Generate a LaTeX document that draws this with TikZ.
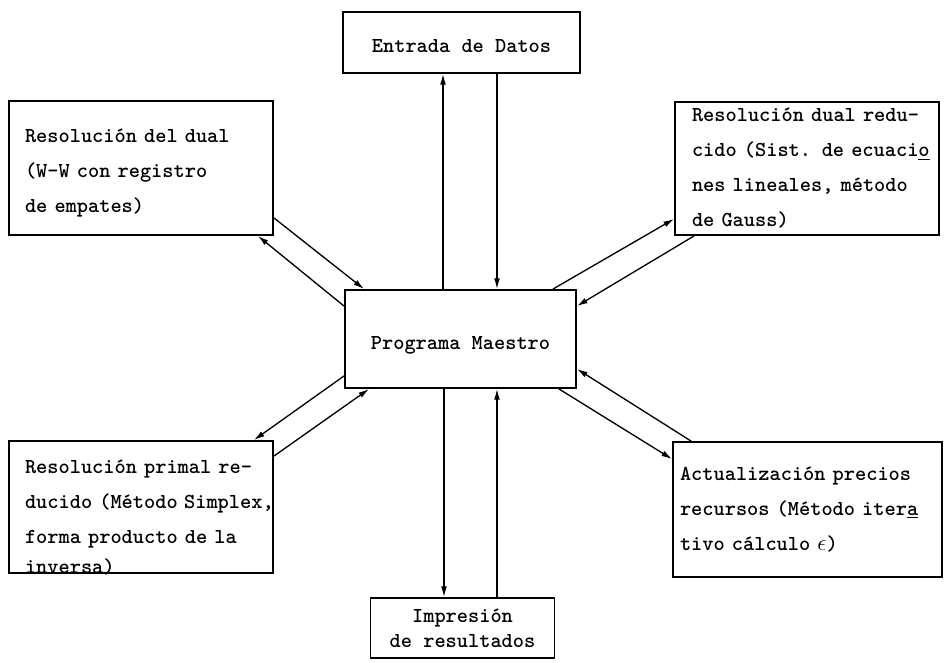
\documentclass[tikz,border=0pt]{standalone}
\usepackage{fontspec}
\usetikzlibrary{arrows.meta}

% invisible strut that pushes a box text down
\newcommand{\textdrop}[1]{\rule{0pt}{#1}}

\tikzset{
  modulebox/.style={draw, line width=1.4pt, inner ysep=0pt,
    font=\ttfamily\bfseries\fontsize{16}{26.25}\selectfont},
  sidebox/.style={modulebox, align=left, minimum width=198pt},
  flow/.style={line width=1pt, -{Latex[length=8pt,width=4.4pt]}}
}

\begin{document}
\begin{tikzpicture}[x=0.75pt,y=-0.75pt]

% Fix the page size
\useasboundingbox (0,0) rectangle (945,663);

% Define the master program in the middle
\node[modulebox, minimum width=173.25pt, minimum height=73.5pt] (maestro) at (460.5,339)
  {\textdrop{19.5pt}Programa Maestro\hspace{13.5pt}};

% Define input and output modules
\node[modulebox, minimum width=177.75pt, minimum height=45.75pt] (entrada) at (461.5,42.5)
  {\textdrop{15pt}Entrada de Datos};
\node[modulebox, minimum width=138pt, minimum height=45pt, align=center,
  font=\ttfamily\bfseries\fontsize{16}{19}\selectfont] (impresion) at (462.5,628) {Impresión\\de resultados};

% Define the four side modules
\node[sidebox, text width=174pt, inner xsep=12pt, minimum height=100.5pt] (dual) at (141,168)
  {\textdrop{18.4pt}Resolución del dual\\(W-W con registro\\de empates)};
\node[sidebox, text width=172.5pt, inner xsep=12.75pt, minimum height=99.75pt] (dualred) at (807,168.5)
  {\mbox{Resolución dual redu-}\\\mbox{cido (Sist. de ecuaci\underline{o}}\\nes lineales, método\\de Gauss)};
\node[sidebox, text width=174pt, inner xsep=12pt, inner ysep=-12pt, minimum height=99pt] (primal) at (141,507)
  {\textdrop{26.5pt}\mbox{Resolución primal re-}\\\mbox{ducido (Método\hspace{0.3em}Simplex,}\\forma producto de la\\[-4pt]inversa)};
\node[sidebox, text width=191.25pt, inner xsep=5.25pt, minimum height=101.25pt] (precios) at (807.5,509.5)
  {\mbox{Actualización precios}\\\mbox{recursos (Método iter\underline{a}}\\tivo cálculo $\epsilon$)};

% Draw data input and printing flows
\draw[flow] ([shift={(-17.5,0)}]maestro.north) -- ([shift={(-17.5,0)}]maestro.north |- entrada.south);
\draw[flow] ([shift={(36.5,0)}]maestro.north |- entrada.south) -- ([shift={(36.5,0)}]maestro.north);
\draw[flow] ([shift={(-16.5,0)}]maestro.south) -- ([shift={(-16.5,0)}]maestro.south |- impresion.north);
\draw[flow] ([shift={(36.5,0)}]maestro.south |- impresion.north) -- ([shift={(36.5,0)}]maestro.south);

% Draw flows to and from the side modules
\draw[flow] ([shift={(0,-18)}]dual.south east) -- ([shift={(20,0)}]maestro.north west);
\draw[flow] ([shift={(0,17)}]maestro.north west) -- ([shift={(-16,0)}]dual.south east);
\draw[flow] ([shift={(-24,0)}]maestro.north east) -- ([shift={(0,-17)}]dualred.south west);
\draw[flow] ([shift={(20,0)}]dualred.south west) -- ([shift={(0,17)}]maestro.north east);
\draw[flow] ([shift={(0,-13)}]maestro.south west) -- ([shift={(-20,0)}]primal.north east);
\draw[flow] ([shift={(0,16)}]primal.north east) -- ([shift={(25,0)}]maestro.south west);
\draw[flow] ([shift={(19,0)}]precios.north west) -- ([shift={(0,-20)}]maestro.south east);
\draw[flow] ([shift={(-18,0)}]maestro.south east) -- ([shift={(0,18)}]precios.north west);

\end{tikzpicture}
\end{document}
